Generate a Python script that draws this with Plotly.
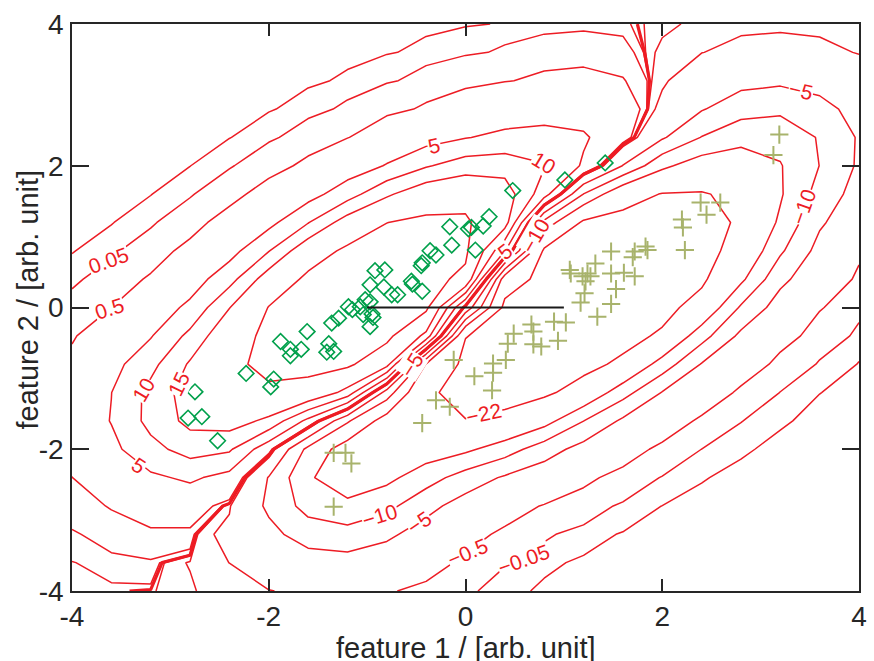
import math
import numpy as np
import plotly.graph_objects as go

# ---- measured samples (feature 1, feature 2) ----
class_a_x = [1.42, 1.01, 0.48, 0.24, 0.18, 0.06, 0.03, -0.16, -0.14, 0.10,
             -0.30, -0.36, -0.44, -0.45, -0.92, -0.82, -0.97, -0.83, -0.55, -0.54,
             -0.44, -0.75, -0.69, -1.02, -0.97, -1.19, -1.15, -1.07, -1.04, -0.95,
             -0.94, -0.97, -1.29, -1.36, -1.61, -1.88, -1.78, -1.78, -1.67, -1.39,
             -1.41, -1.34, -2.23, -1.95, -1.98, -2.75, -2.82, -2.68, -2.52]
class_a_y = [2.04, 1.80, 1.65, 1.28, 1.15, 1.13, 1.11, 1.14, 0.88, 0.81,
             0.74, 0.80, 0.63, 0.59, 0.52, 0.53, 0.32, 0.29, 0.37, 0.33,
             0.23, 0.18, 0.18, 0.11, 0.08, 0.01, -0.03, 0.01, -0.10, -0.09,
             -0.14, -0.27, -0.15, -0.22, -0.34, -0.48, -0.59, -0.68, -0.59, -0.51,
             -0.63, -0.62, -0.93, -1.01, -1.12, -1.19, -1.56, -1.54, -1.88]

class_b_x = [3.19, 3.13, 2.39, 2.59, 2.45, 2.20, 2.21, 2.23, 1.83, 1.85,
             1.72, 1.70, 1.48, 1.32, 1.06, 1.07, 1.19, 1.24, 1.22, 1.27,
             1.48, 1.61, 1.72, 1.53, 1.21, 1.17, 1.48, 1.34, 1.02, 0.90,
             0.67, 0.69, 0.49, 0.43, 0.69, 0.77, 0.94, -0.12, 0.41, 0.28,
             0.28, 0.09, 0.27, -0.30, -0.16, -0.44, -1.34, -1.22, -1.16, -1.34]
class_b_y = [2.44, 2.15, 1.48, 1.48, 1.31, 1.24, 1.13, 0.81, 0.86, 0.81,
             0.79, 0.71, 0.79, 0.62, 0.53, 0.48, 0.44, 0.48, 0.37, 0.44,
             0.48, 0.49, 0.44, 0.26, 0.20, 0.07, 0.05, -0.13, -0.21, -0.20,
             -0.24, -0.34, -0.37, -0.51, -0.52, -0.55, -0.47, -0.74, -0.74, -0.79,
             -0.92, -0.97, -1.17, -1.31, -1.40, -1.63, -2.05, -2.05, -2.20, -2.81]

# projection direction drawn as a black segment
direction_x = [-1.0, 1.0]
direction_y = [0.0, 0.0]

tick_vals = [-4, -2, 0, 2, 4]
tick_text = ["-4", "-2", "0", "2", "4"]

contour_levels = [-22, -15, -10, -5, -0.5, -0.05, -0.005, 0,
                  0.005, 0.05, 0.5, 5, 10, 15, 22]

# in-line contour labels: level and the neighbourhood where it is written
label_levels = [0.05, 0.5, 10, 5, 5, -10, -5, -22, -10, -5, -0.5, -0.05, -5, -10, 10, 15, 5]
label_near_x = [-3.59, -3.62, 0.98, -0.27, 0.40, 0.82, -0.62, 0.15, -0.83, -0.47, 0.02, 0.57,
                3.45, 3.32, -3.10, -2.75, -3.30]
label_near_y = [0.50, -0.10, 2.53, 2.01, 0.79, 0.91, -0.77, -1.26, -3.11, -3.02, -3.46, -3.45,
                3.31, 1.47, -1.30, -1.19, -2.18]

# ---- discriminant evaluated on a coarse grid ----
grid = np.round(np.linspace(-4, 4, 21), 3)
step = grid[1] - grid[0]
kernel_width = 0.58
gain_a = 4.5
gain_b = 6.5
ceiling = 24.0

gx, gy = np.meshgrid(grid, grid)


def kernel_sum(px, py):
    px = np.asarray(px)[None, None, :]
    py = np.asarray(py)[None, None, :]
    d2 = (gx[..., None] - px) ** 2 + (gy[..., None] - py) ** 2
    return np.exp(-d2 / (2 * kernel_width ** 2)).sum(axis=-1)


raw = gain_a * kernel_sum(class_a_x, class_a_y) - gain_b * kernel_sum(class_b_x, class_b_y)
score = ceiling * np.tanh(raw / ceiling)

# ---- locate label anchors on the drawn contour lines ----
fine = np.linspace(-4, 4, 801)
FX, FY = np.meshgrid(fine, fine)


def bilinear(xq, yq):
    fx = (xq - grid[0]) / step
    fy = (yq - grid[0]) / step
    i0 = np.clip(np.floor(fx).astype(int), 0, len(grid) - 2)
    j0 = np.clip(np.floor(fy).astype(int), 0, len(grid) - 2)
    tx = fx - i0
    ty = fy - j0
    return (score[j0, i0] * (1 - tx) * (1 - ty) + score[j0, i0 + 1] * tx * (1 - ty)
            + score[j0 + 1, i0] * (1 - tx) * ty + score[j0 + 1, i0 + 1] * tx * ty)


fine_score = bilinear(FX, FY)
PX_X = 795 / 8.0   # pixels per unit along feature 1
PX_Y = 567 / 8.0   # pixels per unit along feature 2


def anchor(level, x0, y0):
    d = fine_score - level
    cross = np.zeros_like(d, dtype=bool)
    cross[:, :-1] |= np.sign(d[:, :-1]) != np.sign(d[:, 1:])
    cross[:-1, :] |= np.sign(d[:-1, :]) != np.sign(d[1:, :])
    dist = ((FX - x0) * PX_X) ** 2 + ((FY - y0) * PX_Y) ** 2
    dist[~cross] = np.inf
    k = np.unravel_index(np.argmin(dist), dist.shape)
    xa, ya = FX[k], FY[k]
    h = 0.02
    dfx = (bilinear(np.array(xa + h), np.array(ya)) - bilinear(np.array(xa - h), np.array(ya))) / (2 * h)
    dfy = (bilinear(np.array(xa), np.array(ya + h)) - bilinear(np.array(xa), np.array(ya - h))) / (2 * h)
    tx, ty = -dfy / PX_Y, dfx / PX_X
    ang = math.degrees(math.atan2(ty, tx))
    if ang > 90:
        ang -= 180
    if ang <= -90:
        ang += 180
    return float(xa), float(ya), -ang


def level_text(v):
    s = f"{abs(v):g}"
    return ("\u2212" + s) if v < 0 else s


RED = "#ED1C24"
INK = "#262626"
FONT = "Liberation Sans, Arial, sans-serif"

fig = go.Figure()

for lev in contour_levels:
    fig.add_trace(go.Contour(
        x=grid, y=grid, z=score,
        contours=dict(start=lev, end=lev, size=1, coloring="none", showlabels=False),
        line=dict(color=RED, width=3.2 if lev == 0 else 1.5, smoothing=0),
        showscale=False, hoverinfo="skip",
    ))

fig.add_trace(go.Scatter(
    x=class_a_x, y=class_a_y, mode="markers",
    marker=dict(symbol="diamond-open", size=12, color="#00A04B",
                line=dict(width=1.6, color="#00A04B")),
    hoverinfo="skip", showlegend=False))

fig.add_trace(go.Scatter(
    x=class_b_x, y=class_b_y, mode="markers",
    marker=dict(symbol="cross-thin-open", size=13, color="#A8B36C",
                line=dict(width=2, color="#A8B36C")),
    hoverinfo="skip", showlegend=False))

fig.add_trace(go.Scatter(
    x=direction_x, y=direction_y, mode="lines",
    line=dict(color="#1A1A1A", width=2),
    hoverinfo="skip", showlegend=False))

annotations = []
for lev, lx, ly in zip(label_levels, label_near_x, label_near_y):
    ax, ay, angle = anchor(lev, lx, ly)
    annotations.append(dict(
        x=ax, y=ay, xref="x", yref="y", text=level_text(lev),
        showarrow=False, textangle=angle, bgcolor="white", borderpad=0,
        font=dict(family=FONT, size=21, color=RED)))

annotations += [
    dict(text="feature 1 / [arb. unit]", xref="paper", yref="paper",
         x=0.5, y=-0.1, xanchor="center", yanchor="middle",
         showarrow=False, font=dict(family=FONT, size=29, color=INK)),
    dict(text="feature 2 / [arb. unit]", xref="paper", yref="paper",
         x=-0.0553, y=0.515, xanchor="center", yanchor="middle",
         textangle=-90, showarrow=False,
         font=dict(family=FONT, size=29, color=INK)),
]

axis_common = dict(
    range=[-4, 4], tickvals=tick_vals, ticktext=tick_text,
    ticks="inside", tickcolor=INK, tickwidth=1.5,
    showline=True, linecolor=INK, linewidth=1.5, mirror="ticks",
    showgrid=False, zeroline=False,
    tickfont=dict(family=FONT, size=28, color=INK),
)

fig.update_layout(
    width=874, height=661,
    margin=dict(l=72, r=7, t=24, b=70),
    paper_bgcolor="white", plot_bgcolor="white",
    showlegend=False,
    xaxis=dict(**axis_common, ticklen=12, ticklabelstandoff=0),
    yaxis=dict(**axis_common, ticklen=17, ticklabelstandoff=1),
    annotations=annotations,
)

fig.write_html("out.html")
